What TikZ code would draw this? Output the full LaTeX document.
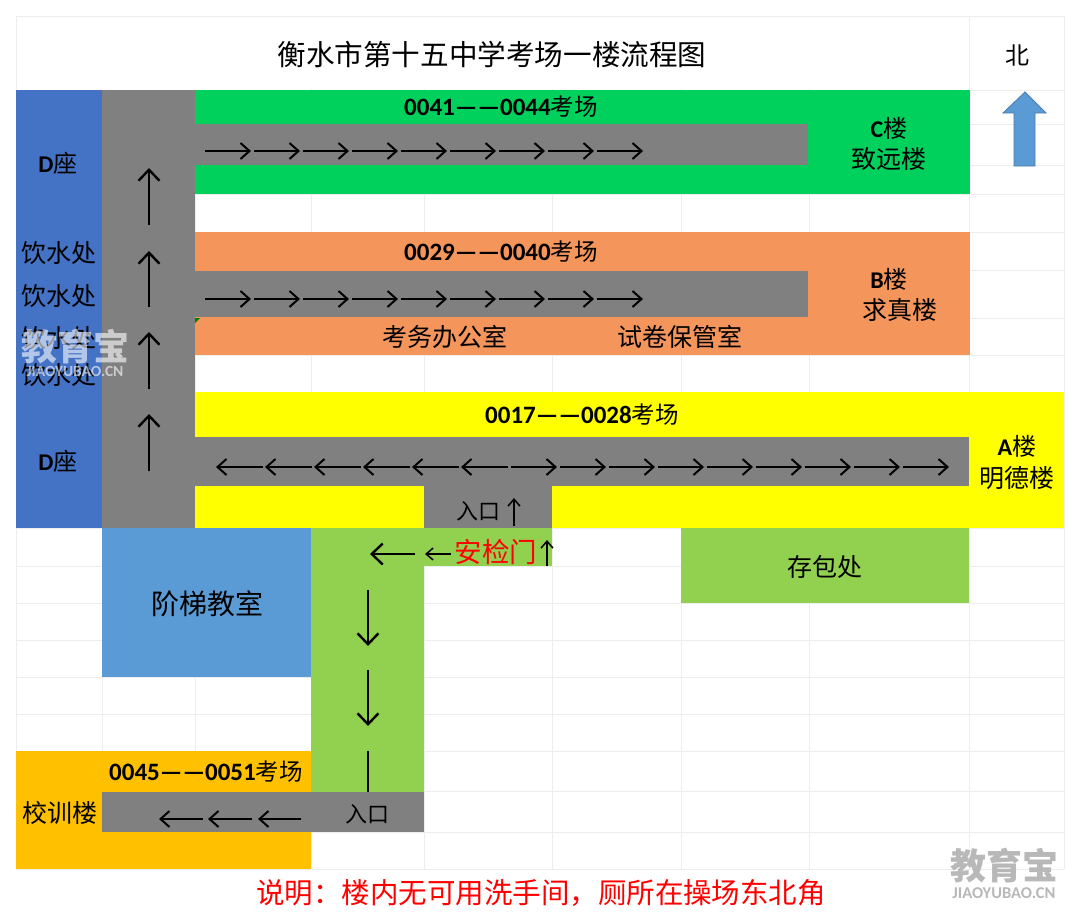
\documentclass[tikz,border=0pt]{standalone}
\usepackage{fontspec}
\setmainfont{Noto Sans CJK SC}
\newfontfamily\lat{Carlito}[BoldFont={Carlito Bold}]
\usetikzlibrary{arrows.meta}
\definecolor{cgreen}{HTML}{00D05C}
\definecolor{corange}{HTML}{F4955C}
\definecolor{cyellow}{HTML}{FFFF00}
\definecolor{cgray}{HTML}{808080}
\definecolor{cblue}{HTML}{4472C4}
\definecolor{clblue}{HTML}{5B9BD5}
\definecolor{clgreen}{HTML}{92D050}
\definecolor{cgold}{HTML}{FFC000}
\definecolor{cgrid}{HTML}{EDEDED}
\newcommand{\fs}[1]{\fontsize{#1}{#1}\selectfont}
\newcommand{\room}[2]{{\lat\bfseries\fs{25}#1}{\fs{23.5}考场}}
\tikzset{
 lab/.style={inner sep=0pt,text=black,font=\fs{24}},
 arr/.style={black,line width=2.6pt,-{Straight Barb[length=11pt,width=21pt,line width=2.4pt]}},
 arrs/.style={black,line width=2pt,-{Straight Barb[length=9pt,width=16pt,line width=2pt]}},
 arrt/.style={black,line width=1.5pt,-{Straight Barb[length=7pt,width=12pt,line width=1.5pt]}},
}
\begin{document}
\begin{tikzpicture}[x=1pt,y=-1pt]
\useasboundingbox (0,0) rectangle (1080,921);
\fill[white] (0,0) rectangle (1080,921);
% grid
\foreach \x in {16,102,195,311,424,552,681,809,969,1064}
  \draw[cgrid,line width=1pt] (\x,16) -- (\x,869);
\foreach \y in {16,90,124,165,194,232,270,318,355,392,437,486,528,566,603,640,677,714,751,791,832,869}
  \draw[cgrid,line width=1pt] (16,\y) -- (1064,\y);
\fill[white] (17,17) rectangle (968,89);
% blocks
\fill[cgreen] (195,90) rectangle (970,194);
\fill[cgray] (195,124) rectangle (808,165);
\fill[corange] (195,232) rectangle (970,355);
\fill[cgray] (195,271) rectangle (808,317);
\fill[green!50!black] (195,318) -- (200,318) -- (195,323) -- cycle;
\fill[cyellow] (195,392) rectangle (1064,528);
\fill[cgray] (195,437) rectangle (969,486);
\fill[cgray] (424,486) rectangle (552,528);
\fill[cblue] (16,90) rectangle (102,528);
\fill[cgray] (102,90) rectangle (195,528);
\fill[clblue] (102,528) rectangle (311,677);
\fill[clgreen] (311,528) rectangle (424,792);
\fill[clgreen] (311,528) rectangle (552,566);
\fill[clgreen] (681,528) rectangle (969,603);
\fill[cgold] (16,751) rectangle (311,869);
\fill[cgray] (102,792) rectangle (424,832);
% north arrow
\draw[fill=clblue,draw=clblue!80!black,line width=.8pt] (1025,92) -- (1046,113) -- (1035,113) -- (1035,166) -- (1014,166) -- (1014,113) -- (1003,113) -- cycle;
% arrows
\foreach \i in {0,...,8} {
  \draw[arrs] ({205+49*\i},151) -- ({251+49*\i},151);
  \draw[arrs] ({205+49*\i},299) -- ({251+49*\i},299);
  \draw[arrs] ({511+49*\i},467) -- ({557+49*\i},467);
}
\foreach \i in {0,...,5}
  \draw[arrs] ({263+49*\i},467) -- ({216+49*\i},467);
\foreach \a/\b in {225/168,307/251,389/332,471/414}
  \draw[arr] (149,\a) -- (149,\b);
\draw[arr] (368,590) -- (368,646);
\draw[arr] (368,670) -- (368,726);
\draw[black,line width=2.6pt] (368,751) -- (368,792);
\draw[arr] (415,554) -- (370,554);
\draw[arrt] (451,554) -- (425,554);
\draw[arrt] (547,566) -- (547,540);
\draw[arrt] (514,526) -- (514,498);
\foreach \a/\b in {301/258,252/208,203/159}
  \draw[arrs] (\a,819) -- (\b,819);
% text
\node[lab,font=\fs{28.6}] (title) at (492,55) {衡水市第十五中学考场一楼流程图};
\node[lab] (north) at (1017,55) {北};
\node[lab] (r1) at (501,107) {\room{0041——0044}{}};
\node[lab] (r2) at (501,252) {\room{0029——0040}{}};
\node[lab] (r3) at (582,415) {\room{0017——0028}{}};
\node[lab] (r4) at (206,772) {\room{0045——0051}{}};
\node[lab] (c1) at (889,128) {{\lat\bfseries C}楼};
\node[lab,font=\fs{25}] (c2) at (889,159) {致远楼};
\node[lab] (b1) at (889,279) {{\lat\bfseries B}楼};
\node[lab,font=\fs{25}] (b2) at (900,310) {求真楼};
\node[lab] (a1) at (1017,446) {{\lat\bfseries A}楼};
\node[lab,font=\fs{25}] (a2) at (1017,478) {明德楼};
\node[lab] (d1) at (58,163) {{\lat\bfseries D}座};
\node[lab] (d2) at (58,461) {{\lat\bfseries D}座};
\node[lab,font=\fs{25}] (w1) at (59,253) {饮水处};
\node[lab,font=\fs{25}] (w2) at (59,296) {饮水处};
\node[lab,font=\fs{25}] (w3) at (59,338) {饮水处};
\node[lab,font=\fs{25}] (w4) at (59,375) {饮水处};
\node[lab,font=\fs{25}] (o1) at (445,337) {考务办公室};
\node[lab,font=\fs{25}] (o2) at (680,337) {试卷保管室};
\node[lab,font=\fs{22}] (e1) at (478,511) {入口};
\node[lab,font=\fs{22}] (e2) at (367,814) {入口};
\node[lab,text=red,font=\fs{27.5}] (sec) at (496,552) {安检门};
\node[lab,font=\fs{28}] (lec) at (207,604) {阶梯教室};
\node[lab,font=\fs{25}] (bag) at (825,567) {存包处};
\node[lab,font=\fs{25}] (xx) at (60,813) {校训楼};
\node[lab,text=red,font=\fs{28.5}] (note) at (541,893) {说明：楼内无可用洗手间，厕所在操场东北角};
% watermarks
\node[inner sep=0pt,text=white,opacity=.6,font=\fs{36}\bfseries] (wm1) at (75,347) {教育宝};
\node[inner sep=0pt,text=white,opacity=.6,font=\lat\fs{15.5}\bfseries] (wm1b) at (75,371) {JIAOYUBAO.CN};
\node[inner sep=0pt,text=black!28,font=\fs{36}\bfseries] (wm2) at (1004,866) {教育宝};
\node[inner sep=0pt,text=black!28,font=\lat\fs{16.5}\bfseries] (wm2b) at (1004,893) {JIAOYUBAO.CN};
\end{tikzpicture}
\end{document}
